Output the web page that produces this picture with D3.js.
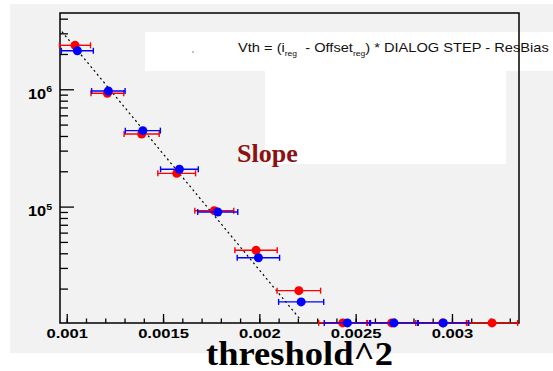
<!DOCTYPE html>
<html>
<head>
<meta charset="utf-8">
<script src="https://cdn.jsdelivr.net/npm/d3@7"></script>
<style>
  body { margin: 0; background: #fff; }
  svg { display: block; }
  .axis path { display: none; }
  .axis line { stroke: #000; stroke-width: 1.3px; }
  .tick-lab { font-family: "Liberation Sans", Arial, sans-serif; font-weight: bold; fill: #000; }
</style>
</head>
<body>
<svg class="chart" width="553" height="371"></svg>
<script>
// values
const redX = [0.001043, 0.001211, 0.001389, 0.001571, 0.001766, 0.001983, 0.002205, 0.002433, 0.002687, 0.002952, 0.003208];
const redY = [2.37e6, 9.24e5, 4.16e5, 1.92e5, 9.23e4, 4.24e4, 1.92e4, 1.02e4, 1.02e4, 1.02e4, 1.02e4];
const redErr = [8.05e-5, 8.5e-5, 9.1e-5, 9.8e-5, 1.01e-4, 1.10e-4, 1.13e-4, 1.25e-4, 1.25e-4, 1.31e-4, 1.33e-4];

const blueX = [0.001055, 0.001216, 0.001395, 0.001585, 0.001784, 0.001995, 0.002217, 0.002457, 0.002699, 0.002955];
const blueY = [2.13e6, 9.67e5, 4.44e5, 2.08e5, 9.0e4, 3.66e4, 1.54e4, 1.02e4, 1.02e4, 1.02e4];
const blueErr = [8.3e-5, 8.7e-5, 9.1e-5, 9.8e-5, 1.04e-4, 1.10e-4, 1.17e-4, 1.2e-4, 1.26e-4, 1.32e-4];

// fit line end points
const fitX = [0.000975, 0.002215];
const fitY = [3.1e6, 1.08e4];

const xMajor = [0.001, 0.0015, 0.002, 0.0025, 0.003];
const xMinor = d3.range(10, 34).map(d => d / 10000);
const xLabels = ["0.001", "0.0015", "0.002", "0.0025", "0.003"];
const yMajor = [1e5, 1e6];
const yExp = ["5", "6"];
const yMinor = [2e4,3e4,4e4,5e4,6e4,7e4,8e4,9e4,2e5,3e5,4e5,5e5,6e5,7e5,8e5,9e5,2e6,3e6,4e6];

const svg = d3.select("svg.chart");
const width = +svg.attr("width");
const height = +svg.attr("height");

const frame = { left: 60, right: 519, top: 13, bottom: 323 };

const xScale = d3.scaleLinear().domain([0.000965, 0.003348]).range([frame.left, frame.right]);
const yScale = d3.scaleLog().domain([1.018e4, 4.47e6]).range([frame.bottom, frame.top]);

// pad
svg.append("rect")
    .attr("x", 10).attr("y", 4)
    .attr("width", width - 10).attr("height", 349)
    .attr("fill", "#f2f2f2");

// legend / text boxes
svg.append("rect")
    .attr("x", 145).attr("y", 32).attr("width", width - 145).attr("height", 39)
    .attr("fill", "#fff");
svg.append("rect")
    .attr("x", 265).attr("y", 70).attr("width", 241).attr("height", 94)
    .attr("fill", "#fff");

// frame
svg.append("rect")
    .attr("x", frame.left).attr("y", frame.top)
    .attr("width", frame.right - frame.left).attr("height", frame.bottom - frame.top)
    .attr("fill", "none").attr("stroke", "#000").attr("stroke-width", 1.5);

// x axis
svg.append("g").attr("class", "axis")
    .attr("transform", `translate(0, ${frame.bottom})`)
    .call(d3.axisBottom(xScale).tickValues(xMinor).tickSize(-4.5).tickFormat(""));

const gx = svg.append("g").attr("class", "axis")
    .attr("transform", `translate(0, ${frame.bottom})`)
    .call(d3.axisBottom(xScale).tickValues(xMajor).tickSize(-9).tickPadding(6)
        .tickFormat((d, i) => xLabels[i]));
gx.selectAll("text")
    .attr("class", "tick-lab")
    .style("font-size", "13px")
    .attr("transform", "scale(1.28,1)");

// y axis
svg.append("g").attr("class", "axis")
    .attr("transform", `translate(${frame.left}, 0)`)
    .call(d3.axisLeft(yScale).tickValues(yMinor).tickSize(-8).tickFormat(""));

const gy = svg.append("g").attr("class", "axis")
    .attr("transform", `translate(${frame.left}, 0)`)
    .call(d3.axisLeft(yScale).tickValues(yMajor).tickSize(-14).tickFormat(""));
gy.selectAll(".tick").each(function (d, i) {
    const t = d3.select(this).append("text")
        .attr("class", "tick-lab")
        .attr("transform", "translate(-32, 9) scale(1.17,1)")
        .style("font-size", "14px")
        .attr("text-anchor", "start");
    t.append("tspan").text("10");
    t.append("tspan").attr("dy", -6.5).style("font-size", "9px").text(yExp[i]);
});

// fit line
const line = d3.line().x(d => xScale(d[0])).y(d => yScale(d[1]));
svg.append("path")
    .datum(fitX.map((x, i) => [x, fitY[i]]))
    .attr("d", line)
    .attr("fill", "none")
    .attr("stroke", "#000")
    .attr("stroke-width", 1.2)
    .attr("stroke-dasharray", "2,3");

const drawSeries = (xs, ys, errs, color) => {
    const data = xs.map((x, i) => ({ x: x, y: ys[i], e: errs[i] }));
    const g = svg.append("g");
    g.selectAll("line.err").data(data)
        .enter().append("line")
        .attr("class", "err")
        .attr("x1", d => xScale(d.x - d.e))
        .attr("x2", d => xScale(d.x + d.e))
        .attr("y1", d => yScale(d.y))
        .attr("y2", d => yScale(d.y))
        .attr("stroke", color).attr("stroke-width", 1.4);
    [-1, 1].forEach(s => {
        g.selectAll("line.cap" + s).data(data)
            .enter().append("line")
            .attr("x1", d => xScale(d.x + s * d.e))
            .attr("x2", d => xScale(d.x + s * d.e))
            .attr("y1", d => yScale(d.y) - 3)
            .attr("y2", d => yScale(d.y) + 3)
            .attr("stroke", color).attr("stroke-width", 1.4);
    });
    g.selectAll("circle").data(data)
        .enter().append("circle")
        .attr("cx", d => xScale(d.x))
        .attr("cy", d => yScale(d.y))
        .attr("r", 4.5)
        .attr("fill", color);
};

drawSeries(redX, redY, redErr, "#ff0000");
drawSeries(blueX, blueY, blueErr, "#0000ff");

// legend text
svg.append("circle").attr("cx", 193).attr("cy", 52).attr("r", 0.7).attr("fill", "#555");

const title = svg.append("text")
    .attr("transform", "translate(238, 52) scale(1.22,1)")
    .style("font-family", "'Liberation Sans', Arial, sans-serif")
    .style("font-size", "12px")
    .attr("fill", "#111")
    .attr("xml:space", "preserve");
title.append("tspan").text("Vth = (i");
title.append("tspan").attr("dy", 4).style("font-size", "7px").text("reg");
title.append("tspan").attr("dy", -4).text("  - Offset");
title.append("tspan").attr("dy", 4).style("font-size", "7px").text("reg");
title.append("tspan").attr("dy", -4).text(") * DIALOG STEP - ResBias");

svg.append("text")
    .attr("x", 237).attr("y", 162)
    .style("font-family", "'Liberation Serif', 'Times New Roman', serif")
    .style("font-size", "26px")
    .style("font-weight", "bold")
    .attr("fill", "#8b1212")
    .text("Slope");

svg.append("text")
    .attr("x", 206).attr("y", 365)
    .style("font-family", "'Liberation Serif', 'Times New Roman', serif")
    .style("font-size", "33px")
    .style("font-weight", "bold")
    .attr("fill", "#000")
    .attr("textLength", 187)
    .attr("lengthAdjust", "spacingAndGlyphs")
    .text("threshold^2");
</script>
</body>
</html>
